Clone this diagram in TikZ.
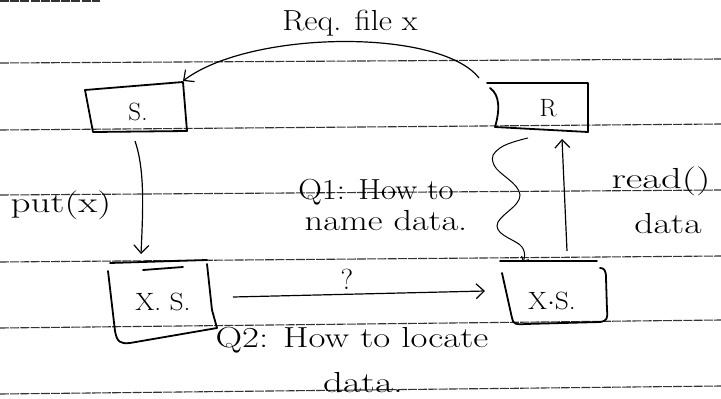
\documentclass[tikz,border=0pt]{standalone}
\usepackage{graphicx}
\usetikzlibrary{arrows.meta}
\newcommand{\wide}[2]{\scalebox{#1}[1]{#2}}
\begin{document}
\begin{tikzpicture}[x=1pt,y=-1pt,
  rule/.style={draw=black!80,line width=1.1pt,dash pattern=on 9pt off 1.2pt},
  box/.style={draw=black,line width=1.8pt,line join=round,line cap=round},
  conn/.style={draw=black,line width=1.2pt,-{Straight Barb[length=8pt,width=15pt,line width=1.2pt]}},
  hand/.style={font=\fontsize{29}{31}\selectfont,inner sep=0pt},
  lbl/.style={font=\fontsize{25}{27}\selectfont,inner sep=0pt}]
\useasboundingbox (0,0) rectangle (721,399);
% ruled paper lines
\draw[rule] (0,1) -- (100,1);
\foreach \l/\r in {63/59,130/124,195/190,262/256,328/320,394/386}{
  \draw[rule] (0,\l) -- (721,\r);
}
% boxes
\draw[box] (85,90) -- (183,82) -- (187,131) -- (93,132) -- cycle;
\draw[box] (487,83) -- (588,83) -- (588,132) -- (495,127) .. controls (500,110) and (500,95) .. (490,88);
\draw[box] (110,263) -- (207,260);
\draw[box] (143,270) -- (183,267);
\draw[box] (108,271) -- (115,331) .. controls (117,342) and (120,344) .. (130,343) -- (217,328) -- (212,310) -- (207,264);
\draw[box] (500,261) -- (597,261);
\draw[box] (502,273) -- (512,318) .. controls (513,324) and (516,325) .. (525,324) -- (600,322) .. controls (607,321) and (608,318) .. (607,310) -- (606,278) .. controls (606,270) and (604,268) .. (600,268);
% text nodes
\node[lbl] (S) at (138,112) {S.};
\node[lbl] (R) at (548,108) {R};
\node[lbl] (XS1) at (163,302) {\wide{1.1}{X. S.}};
\node[lbl] (XS2) at (552,301) {\wide{1.1}{X$\cdot$S.}};
% anchor points of connectors
\coordinate (Rtop) at (479,78);
\coordinate (Stop) at (183,81);
\coordinate (Sbot) at (135,141);
\coordinate (X1top) at (141,254);
\coordinate (X1r) at (233,297);
\coordinate (X2l) at (485,291);
\coordinate (X2top) at (567,251);
\coordinate (Rbot) at (562,139);
\coordinate (Wtop) at (528,138);
\coordinate (X2tl) at (523,262);
% connectors
\draw[conn] (Rtop) .. controls (440,28) and (250,30) .. (Stop);
\draw[conn] (Sbot) .. controls (145,170) and (143,210) .. (X1top);
\draw[conn] (X1r) -- (X2l);
\draw[conn] (X2top) -- (Rbot);
\draw[line width=1pt,-{Straight Barb[length=4pt,width=8pt]}] plot[smooth,tension=0.7] coordinates {(Wtop) (500,148) (494,165) (520,195) (497,226) (522,247) (X2tl)};
% labels
\node[hand] (req) at (350,23) {\wide{1.12}{Req. file x}};
\node[hand] (put) at (61,205) {\wide{1.35}{put(x)}};
\node[hand] (q1a) at (376,192) {\wide{1.13}{Q1: How to}};
\node[hand] (q1b) at (386,221) {\wide{1.25}{name data.}};
\node[hand] (read) at (661,181) {\wide{1.4}{read()}};
\node[hand] (data) at (668,224) {\wide{1.3}{data}};
\node[hand] (qm) at (347,279) {?};
\node[hand] (q2a) at (352,340) {\wide{1.27}{Q2: How to locate}};
\node[hand] (q2b) at (363,383) {\wide{1.35}{data.}};
\end{tikzpicture}
\end{document}
